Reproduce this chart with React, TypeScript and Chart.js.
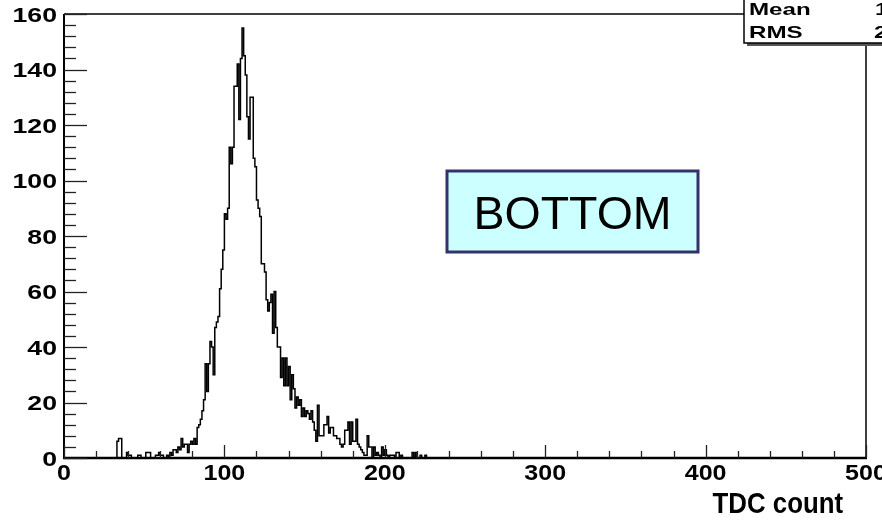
import React, { useEffect, useRef } from "react";
import { Chart, registerables } from "chart.js";

Chart.register(...registerables);

// ---- data ----
const FIRST_BIN = 30;
const BIN_WIDTH = 1;
const counts: number[] = [
  0, 0, 0, 6, 7, 7, 0, 0, 0, 2, // 30-39
  1, 1, 0, 0, 0, 0, 1, 1, 0, 0, // 40-49
  0, 2, 2, 2, 0, 0, 0, 1, 1, 2, // 50-59
  1, 1, 0, 0, 1, 0, 2, 1, 3, 3, // 60-69
  2, 4, 3, 7, 4, 5, 5, 2, 5, 6, // 70-79
  5, 7, 5, 11, 12, 14, 17, 21, 34, 24, // 80-89
  34, 42, 40, 30, 47, 49, 51, 61, 68, 75, // 90-99
  88, 86, 90, 112, 106, 112, 134, 134, 142, 122, // 100-109
  144, 155, 145, 138, 123, 115, 130, 130, 108, 105, // 110-119
  93, 90, 87, 70, 70, 67, 57, 53, 56, 59, // 120-129
  45, 60, 47, 40, 40, 29, 36, 26, 36, 26, // 130-139
  33, 21, 30, 25, 18, 22, 19, 21, 15, 18, // 140-149
  15, 17, 16, 14, 17, 13, 10, 6, 19, 8, // 150-159
  8, 8, 12, 12, 15, 9, 11, 11, 8, 8, // 160-169
  7, 7, 5, 4, 5, 10, 10, 13, 5, 13, // 170-179
  6, 6, 14, 5, 4, 3, 2, 1, 1, 8, // 180-189
  4, 4, 0, 4, 1, 2, 1, 0, 4, 1, // 190-199
  3, 1, 0, 1, 1, 1, 0, 2, 2, 0, // 200-209
  1, 0, 0, 0, 0, 0, 0, 2, 0, 2, // 210-219
  0, 0, 1, 0, 0, 1, 0, 0, 0, 0, // 220-229
];

const X_MIN = 0;
const X_MAX = 500;
const Y_MIN = 0;
const Y_MAX = 160;
const xTickLabels = [0, 100, 200, 300, 400, 500];
const yTickLabels = [0, 20, 40, 60, 80, 100, 120, 140, 160];
const X_MINOR_STEP = 20;
const Y_MINOR_STEP = 4;
const xAxisTitle = "TDC count";
const paveLabel = "BOTTOM";
const statNames = ["Mean", "RMS"];
const statValues = ["119.6", "24.93"];

const FONT = "'Liberation Sans', Arial, Helvetica, sans-serif";

function drawScaledText(
  ctx: CanvasRenderingContext2D,
  text: string,
  x: number,
  y: number,
  font: string,
  align: CanvasTextAlign,
  sx: number
) {
  ctx.save();
  ctx.font = font;
  ctx.textBaseline = "alphabetic";
  ctx.textAlign = align;
  ctx.translate(x, y);
  ctx.scale(sx, 1);
  ctx.fillText(text, 0, 0);
  ctx.restore();
}

const rootStylePlugin = {
  id: "rootStyle",
  afterDraw(chart: any) {
    const ctx: CanvasRenderingContext2D = chart.ctx;
    const xs = chart.scales.x;
    const ys = chart.scales.y;
    const left = xs.getPixelForValue(X_MIN);
    const right = xs.getPixelForValue(X_MAX);
    const bottom = ys.getPixelForValue(Y_MIN);
    const top = ys.getPixelForValue(Y_MAX);

    ctx.save();
    ctx.strokeStyle = "#000";
    ctx.fillStyle = "#000";

    // frame
    ctx.lineWidth = 1.5;
    ctx.beginPath();
    ctx.moveTo(left, top);
    ctx.lineTo(right, top);
    ctx.lineTo(right, bottom);
    ctx.stroke();
    ctx.lineWidth = 2;
    ctx.beginPath();
    ctx.moveTo(left, top);
    ctx.lineTo(left, bottom);
    ctx.stroke();
    ctx.lineWidth = 2.5;
    ctx.beginPath();
    ctx.moveTo(left - 1, bottom);
    ctx.lineTo(right + 1, bottom);
    ctx.stroke();

    // y ticks (inward)
    ctx.lineWidth = 1.3;
    ctx.strokeStyle = "#222";
    for (let v = Y_MIN; v <= Y_MAX; v += Y_MINOR_STEP) {
      const py = Math.round(ys.getPixelForValue(v)) + 0.5;
      const major = v % 20 === 0;
      const len = major ? 23 : 12;
      ctx.beginPath();
      ctx.moveTo(left, py);
      ctx.lineTo(left + len, py);
      ctx.stroke();
    }
    // x ticks (inward)
    for (let v = X_MIN; v <= X_MAX; v += X_MINOR_STEP) {
      const px = Math.round(xs.getPixelForValue(v)) + 0.5;
      const major = v % 100 === 0;
      const len = major ? 13 : 7;
      ctx.beginPath();
      ctx.moveTo(px, bottom);
      ctx.lineTo(px, bottom - len);
      ctx.stroke();
    }

    // labels
    ctx.fillStyle = "#000";
    const yTickFont = `bold 21px ${FONT}`;
    const xTickFont = `bold 22px ${FONT}`;
    for (const v of yTickLabels) {
      const py = ys.getPixelForValue(v);
      drawScaledText(ctx, String(v), left - 7, py + 7.5, yTickFont, "right", 1.27);
    }
    for (const v of xTickLabels) {
      const px = xs.getPixelForValue(v);
      drawScaledText(ctx, String(v), px, bottom + 22, xTickFont, "center", 1.14);
    }

    // axis title
    drawScaledText(ctx, xAxisTitle, right - 23, 513, `bold 30px ${FONT}`, "right", 0.86);

    // stats box (top right, partly outside)
    const bx = 744;
    const by = -2;
    const bh = 45;
    ctx.fillStyle = "#555";
    ctx.fillRect(bx + 3, by + bh, 200, 3);
    ctx.fillStyle = "#fff";
    ctx.fillRect(bx, by, 200, bh);
    ctx.strokeStyle = "#000";
    ctx.lineWidth = 1.5;
    ctx.strokeRect(bx, by, 200, bh);
    ctx.fillStyle = "#000";
    const statFont = `bold 17px ${FONT}`;
    drawScaledText(ctx, statNames[0], 749, 15, statFont, "left", 1.42);
    drawScaledText(ctx, statNames[1], 749, 38, statFont, "left", 1.42);
    drawScaledText(ctx, statValues[0], 875, 15, statFont, "left", 1.42);
    drawScaledText(ctx, statValues[1], 874, 38, statFont, "left", 1.42);

    // label pave
    const px0 = 447;
    const py0 = 171;
    const pw = 251;
    const ph = 81;
    ctx.fillStyle = "#ccffff";
    ctx.fillRect(px0, py0, pw, ph);
    ctx.strokeStyle = "#33336b";
    ctx.lineWidth = 3;
    ctx.strokeRect(px0, py0, pw, ph);
    ctx.fillStyle = "#000";
    drawScaledText(ctx, paveLabel, px0 + pw / 2, 229, `47px ${FONT}`, "center", 0.99);

    ctx.restore();
  },
};

export default function App() {
  const canvasRef = useRef<HTMLCanvasElement | null>(null);

  useEffect(() => {
    const canvas = canvasRef.current;
    if (!canvas) return;
    const points = counts.map((c, i) => ({ x: FIRST_BIN + i * BIN_WIDTH, y: c }));
    points.push({ x: FIRST_BIN + counts.length * BIN_WIDTH, y: 0 });

    const chart = new Chart(canvas, {
      type: "line",
      data: {
        datasets: [
          {
            label: "TDC",
            data: points,
            borderColor: "#000",
            borderWidth: 1.5,
            stepped: "before",
            pointRadius: 0,
            fill: false,
            tension: 0,
          },
        ],
      },
      options: {
        responsive: false,
        animation: false,
        devicePixelRatio: 1,
        layout: { padding: { left: 64, top: 14, right: 16, bottom: 62 } },
        scales: {
          x: { type: "linear", min: X_MIN, max: X_MAX, display: false },
          y: { type: "linear", min: Y_MIN, max: Y_MAX, display: false },
        },
        plugins: {
          legend: { display: false },
          tooltip: { enabled: false },
        },
      },
      plugins: [rootStylePlugin],
    });
    return () => chart.destroy();
  }, []);

  return (
    <div style={{ position: "fixed", left: 0, top: 0, width: 882, height: 520, background: "#fff" }}>
      <canvas ref={canvasRef} width={882} height={520} style={{ display: "block", width: 882, height: 520 }} />
    </div>
  );
}
